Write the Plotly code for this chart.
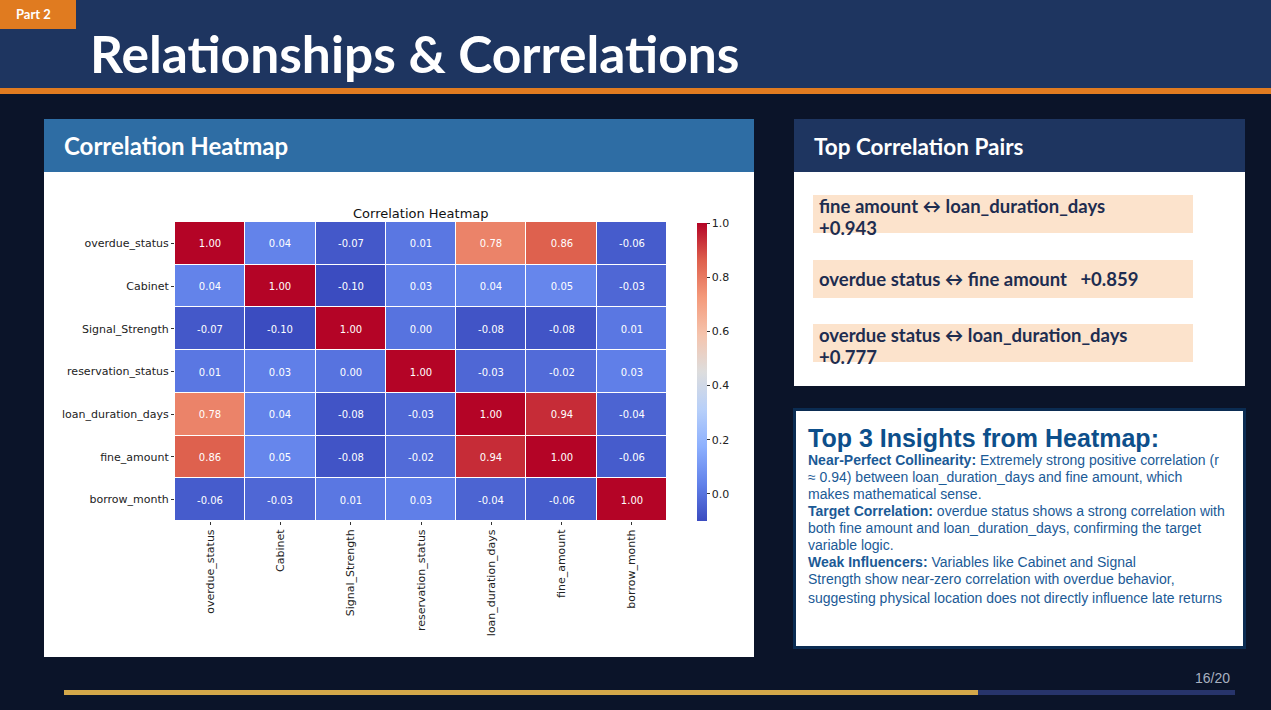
import plotly.graph_objects as go

# heatmap data
variables = ['overdue_status', 'Cabinet', 'Signal_Strength', 'reservation_status',
             'loan_duration_days', 'fine_amount', 'borrow_month']
corr = [
    [1.00, 0.04, -0.07, 0.01, 0.78, 0.86, -0.06],
    [0.04, 1.00, -0.10, 0.03, 0.04, 0.05, -0.03],
    [-0.07, -0.10, 1.00, 0.00, -0.08, -0.08, 0.01],
    [0.01, 0.03, 0.00, 1.00, -0.03, -0.02, 0.03],
    [0.78, 0.04, -0.08, -0.03, 1.00, 0.94, -0.04],
    [0.86, 0.05, -0.08, -0.02, 0.94, 1.00, -0.06],
    [-0.06, -0.03, 0.01, 0.03, -0.04, -0.06, 1.00],
]
cbar_ticks = [0.0, 0.2, 0.4, 0.6, 0.8, 1.0]

# right side texts
pairs = [
    ['fine amount \u2194 loan_duration_days', '+0.943'],
    ['overdue status \u2194 fine amount &nbsp;&nbsp;+0.859'],
    ['overdue status \u2194 loan_duration_days', '+0.777'],
]
insight_lines = [
    '<b>Near-Perfect Collinearity:</b> Extremely strong positive correlation (r',
    '\u2248 0.94) between loan_duration_days and fine amount, which',
    'makes mathematical sense.',
    '<b>Target Correlation:</b> overdue status shows a strong correlation with',
    'both fine amount and loan_duration_days, confirming the target',
    'variable logic.',
    '<b>Weak Influencers:</b> Variables like Cabinet and Signal',
    'Strength show near-zero correlation with overdue behavior,',
    'suggesting physical location does not directly influence late returns',
]
page_no = '16/20'

W, H = 1271, 710


def px(x):
    return x / W


def py(y):
    return 1 - y / H


coolwarm = [
    [0.0, '#3b4cc0'], [0.125, '#6282ea'], [0.25, '#8db0fe'], [0.375, '#b8d0f9'],
    [0.5, '#dddddd'], [0.625, '#f5c4ad'], [0.75, '#f49a7b'], [0.875, '#de604d'],
    [1.0, '#b40426'],
]

heat = go.Heatmap(
    z=corr, x=variables, y=variables,
    zmin=-0.10, zmax=1.0, colorscale=coolwarm,
    xgap=1, ygap=1,
    texttemplate='%{z:.2f}', textfont=dict(size=10, color='white', family='DejaVu Sans'),
    colorbar=dict(
        x=px(697), xanchor='left', thickness=10, xpad=0, ypad=0,
        lenmode='fraction', len=298 / H, y=py(372), yanchor='middle',
        outlinewidth=0, tickvals=cbar_ticks, ticktext=['%.1f' % t for t in cbar_ticks],
        ticks='outside', ticklen=3, tickcolor='#333',
        tickfont=dict(size=11, color='#222', family='DejaVu Sans'),
    ),
    hoverinfo='skip',
)

fig = go.Figure(heat)

shapes = []


def rect(x0, y0, x1, y1, color, line=None):
    shapes.append(dict(type='rect', xref='paper', yref='paper', layer='below',
                       x0=px(x0), x1=px(x1), y0=py(y1), y1=py(y0),
                       fillcolor=color, line=line or dict(width=0)))


# header
rect(0, 0, W, 88, '#1e3560')
rect(0, 88, W, 94, '#e07b20')
rect(0, 0, 76, 29, '#e07b20')
# left panel
rect(44, 119, 754, 172, '#2e6da4')
rect(44, 172, 754, 657, 'white')
# right top panel
rect(794, 119, 1245, 172, '#1e3560')
rect(794, 172, 1245, 386, 'white')
box_tops = [195, 260, 324]
for y0 in box_tops:
    rect(813, y0, 1193, y0 + 38, '#fce3cc')
# right bottom panel
rect(793, 408, 1246, 649, '#0b2c52')
rect(796, 411, 1243, 646, 'white')
# progress bar
rect(64, 690, 1235, 695, '#27346b')
rect(64, 690, 978, 695, '#d4a84a')

ann = []


def text(x, y, s, size, color, family='Lato', xanchor='left', yanchor='middle'):
    ann.append(dict(xref='paper', yref='paper', x=px(x), y=py(y), text=s,
                    showarrow=False, xanchor=xanchor, yanchor=yanchor, align='left',
                    font=dict(size=size, color=color, family=family)))


text(14, 14, '<b>Part 2</b>', 13, 'white')
text(88, 53, '<b>Relationships & Correlations</b>', 51.5, 'white')
text(62, 146, '<b>Correlation Heatmap</b>', 24, 'white')
text(812, 147, '<b>Top Correlation Pairs</b>', 22.5, 'white')
text(421, 213, 'Correlation Heatmap', 13, '#111', family='DejaVu Sans', xanchor='center')

for y0, lines in zip(box_tops, pairs):
    if len(lines) == 2:
        text(817, y0 + 11, '<b>' + lines[0] + '</b>', 18.5, '#1e2d50')
        text(817, y0 + 33, '<b>' + lines[1] + '</b>', 18.5, '#1e2d50')
    else:
        text(817, y0 + 19, '<b>' + lines[0] + '</b>', 18.5, '#1e2d50')

text(806, 438, '<b>Top 3 Insights from Heatmap:</b>', 25, '#0d4f8b',
     family='Liberation Sans')
for i, line in enumerate(insight_lines):
    y = 460 + 17 * i + (2 if i == len(insight_lines) - 1 else 0)
    text(806, y, line, 14, '#1b5a96', family='Liberation Sans')

text(1232, 678, page_no, 14, '#a8b0c0', family='Liberation Sans', xanchor='right')

fig.update_layout(
    width=W, height=H, margin=dict(l=0, r=0, t=0, b=0),
    paper_bgcolor='#0b1429', plot_bgcolor='white',
    shapes=shapes, annotations=ann, showlegend=False,
    xaxis=dict(domain=[px(175), px(667)], tickangle=-90, ticks='outside', ticklen=3,
               tickcolor='#333', showgrid=False, zeroline=False,
               tickfont=dict(size=11, color='#222', family='DejaVu Sans')),
    yaxis=dict(domain=[py(521), py(222)], autorange='reversed', ticks='outside',
               ticklen=3, tickcolor='#333', showgrid=False, zeroline=False,
               tickfont=dict(size=11, color='#222', family='DejaVu Sans')),
)

fig.write_html('out.html', config={'displayModeBar': False},
               post_script="document.body.style.margin='0';document.body.style.background='#0b1429';")
